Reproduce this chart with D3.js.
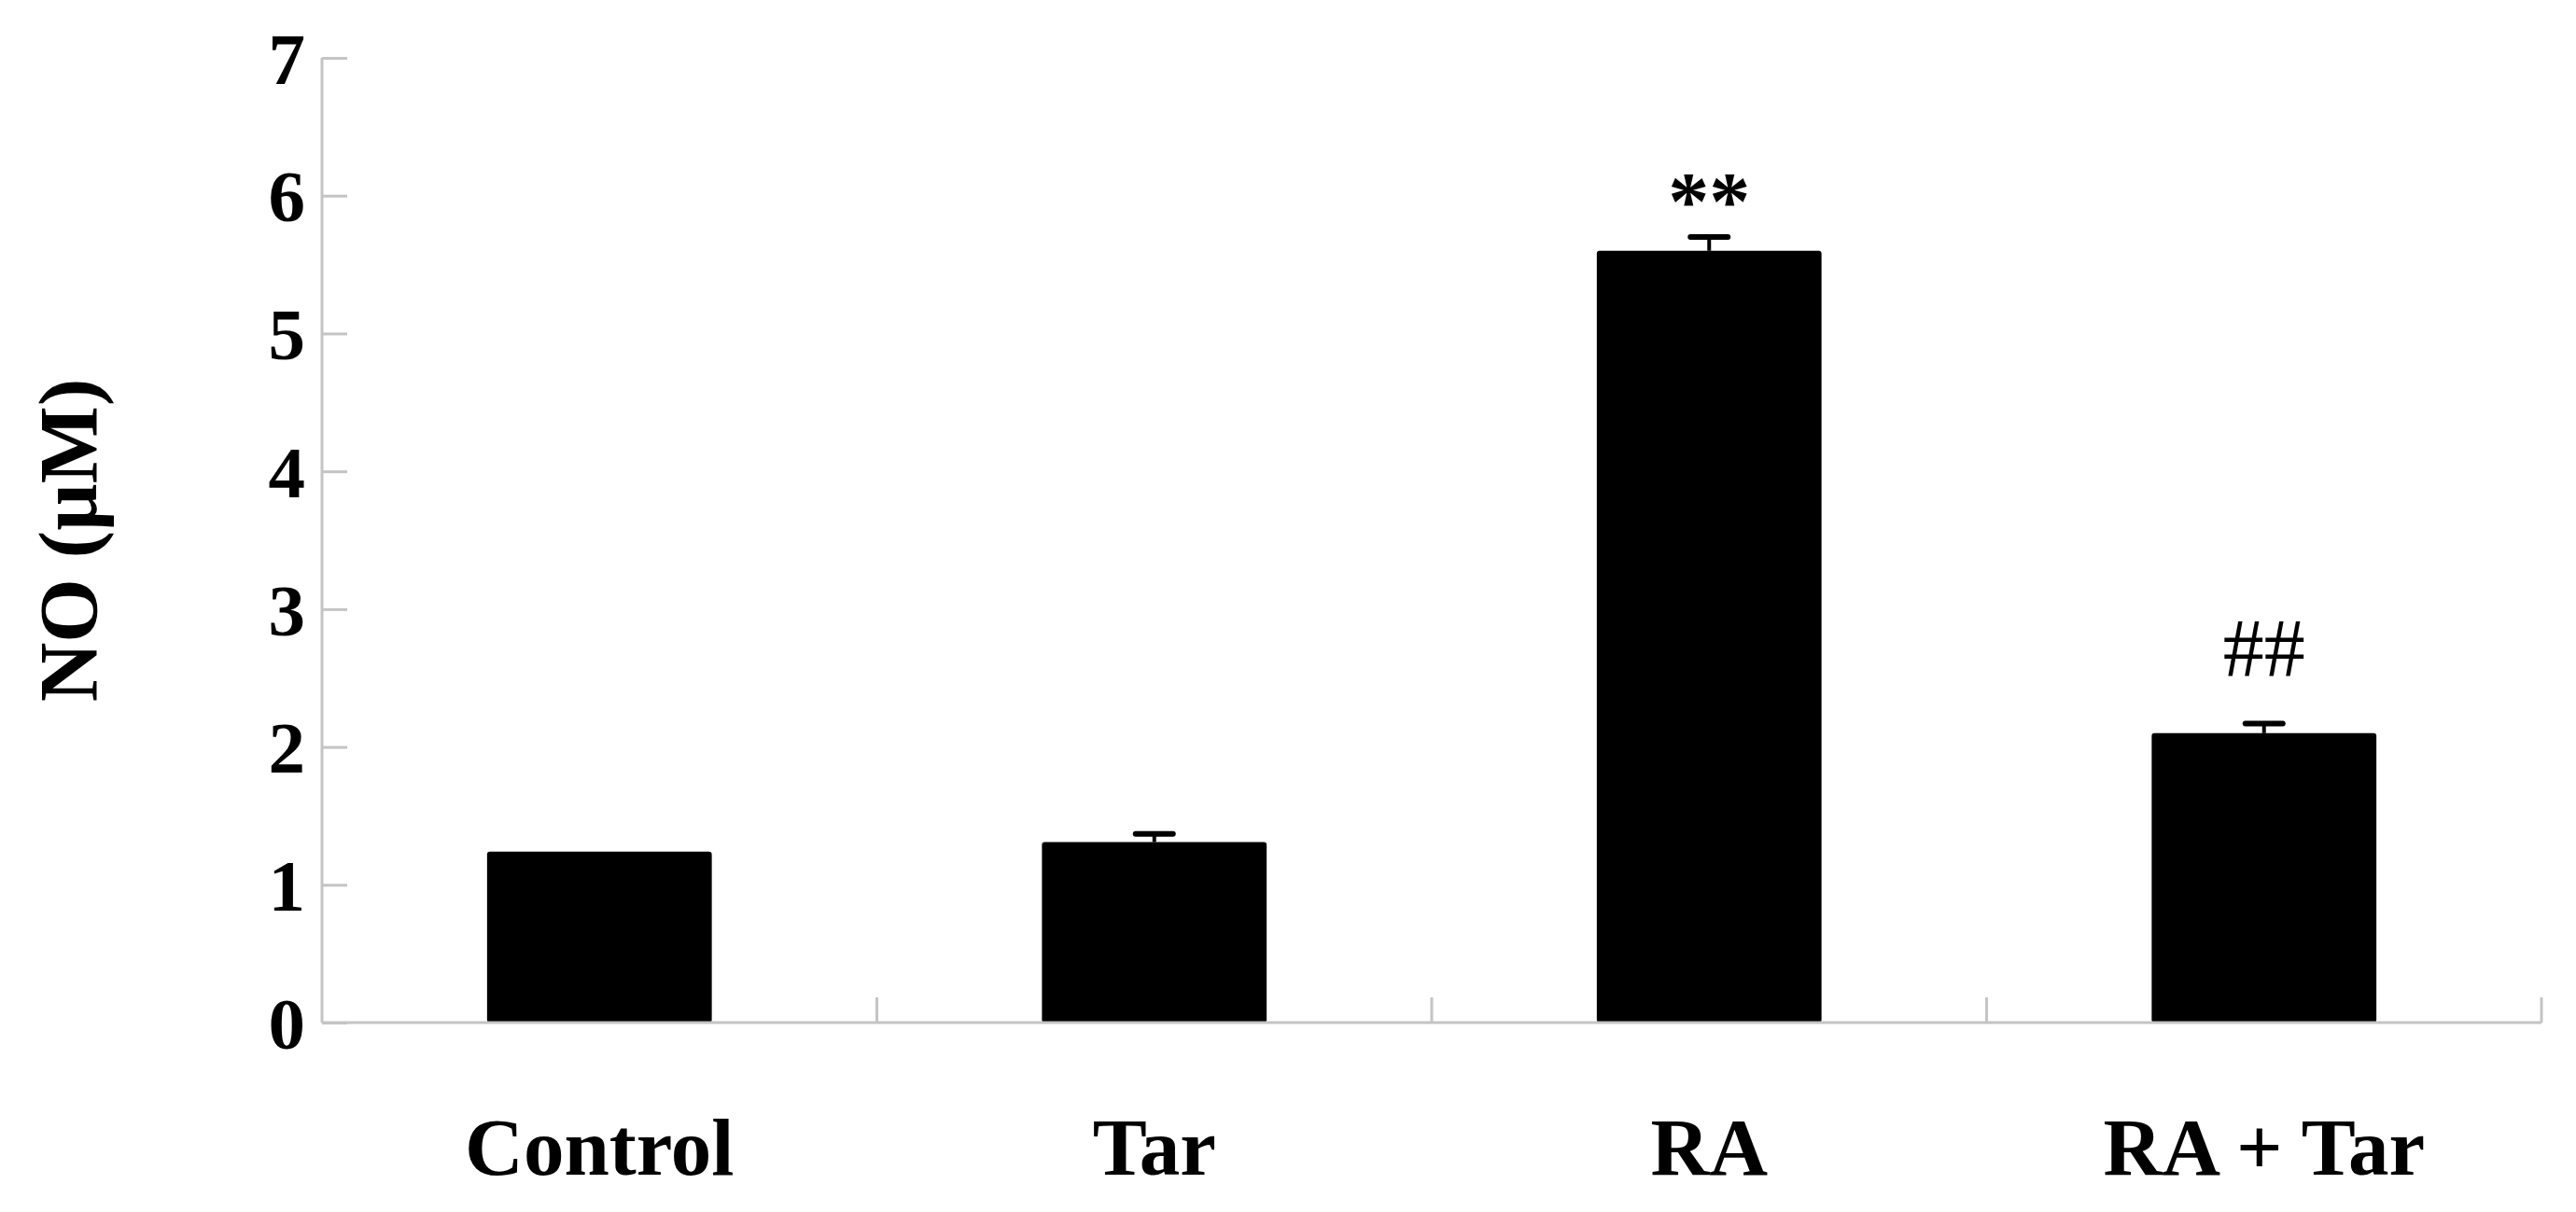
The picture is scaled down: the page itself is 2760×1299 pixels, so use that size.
<!DOCTYPE html>
<html>
<head>
<meta charset="utf-8">
<script src="https://cdn.jsdelivr.net/npm/d3@7"></script>
<style>
  body { margin: 0; background: #fff; }
  text { font-family: "Liberation Serif", "Times New Roman", serif; font-weight: bold; fill: #000; }
</style>
</head>
<body>
<svg width="2760" height="1299"></svg>
<script>
// values
var groups = ["Control", "Tar", "RA", "RA + Tar"];
var means = [1.24, 1.31, 5.60, 2.10];
var errors = [0, 0.06, 0.10, 0.07];
var marks = ["", "", "**", "##"];
var yTicks = [0, 1, 2, 3, 4, 5, 6, 7];

var svg = d3.select("svg");
var plotLeft = 345, plotRight = 2723, plotTop = 62, plotBottom = 1096;

var x = d3.scaleBand().domain(groups).range([plotLeft, plotRight]).padding(0);
var y = d3.scaleLinear().domain([0, 7]).range([plotBottom, plotTop]);
var barW = x.bandwidth() * 0.405;
var axisColor = "#c4c4c4";

// y axis, ticks inside pointing right
var yAxis = svg.append("g").attr("transform", "translate(" + plotLeft + ",0)")
    .call(d3.axisRight(y).tickValues(yTicks).tickSize(27).tickFormat(""));
yAxis.select(".domain").remove();
yAxis.selectAll("line").attr("stroke", axisColor).attr("stroke-width", 3);
svg.append("line").attr("x1", plotLeft).attr("x2", plotLeft).attr("y1", plotTop).attr("y2", plotBottom)
    .attr("stroke", axisColor).attr("stroke-width", 3);

svg.selectAll(".ylab").data(yTicks).enter().append("text")
    .attr("class", "ylab")
    .attr("x", 327)
    .attr("y", function (d) { return y(d); })
    .attr("dy", "0.35em")
    .attr("text-anchor", "end")
    .style("font-size", "79px")
    .text(function (d) { return d; });

// bars
svg.selectAll(".bar").data(groups).enter().append("rect")
    .attr("class", "bar")
    .attr("x", function (d) { return x(d) + (x.bandwidth() - barW) / 2; })
    .attr("width", barW)
    .attr("y", function (d, i) { return y(means[i]); })
    .attr("height", function (d, i) { return y(0) - y(means[i]); })
    .attr("rx", 3)
    .attr("fill", "#000");

// error bars (upper only)
var eb = svg.selectAll(".err").data(groups.filter(function (d, i) { return errors[i] > 0; }))
    .enter().append("g").attr("class", "err");
eb.append("line")
    .attr("x1", function (d) { return x(d) + x.bandwidth() / 2; })
    .attr("x2", function (d) { return x(d) + x.bandwidth() / 2; })
    .attr("y1", function (d) { var i = groups.indexOf(d); return y(means[i]); })
    .attr("y2", function (d) { var i = groups.indexOf(d); return y(means[i] + errors[i]); })
    .attr("stroke", "#000").attr("stroke-width", 4);
eb.append("line")
    .attr("x1", function (d) { return x(d) + x.bandwidth() / 2 - 20; })
    .attr("x2", function (d) { return x(d) + x.bandwidth() / 2 + 20; })
    .attr("y1", function (d) { var i = groups.indexOf(d); return y(means[i] + errors[i]); })
    .attr("y2", function (d) { var i = groups.indexOf(d); return y(means[i] + errors[i]); })
    .attr("stroke", "#000").attr("stroke-width", 6).attr("stroke-linecap", "round");

// significance marks
svg.selectAll(".mark").data(groups).enter().append("text")
    .attr("class", "mark")
    .attr("x", function (d) { return x(d) + x.bandwidth() / 2; })
    .attr("y", function (d, i) {
        var t = y(means[i] + errors[i]);
        return marks[i] === "**" ? t - 9 : t - 51;
    })
    .attr("text-anchor", "middle")
    .style("font-size", "88px")
    .style("font-weight", function (d, i) { return marks[i] === "##" ? "normal" : "bold"; })
    .text(function (d, i) { return marks[i]; });

// x axis with ticks pointing up at the band edges
var xEdges = groups.map(function (d) { return x(d); }).concat([plotRight]);
svg.append("line").attr("x1", plotLeft).attr("x2", plotRight).attr("y1", plotBottom).attr("y2", plotBottom)
    .attr("stroke", axisColor).attr("stroke-width", 3);
svg.selectAll(".xtick").data(xEdges.slice(1)).enter().append("line")
    .attr("class", "xtick")
    .attr("x1", function (d) { return d; }).attr("x2", function (d) { return d; })
    .attr("y1", plotBottom).attr("y2", plotBottom - 27)
    .attr("stroke", axisColor).attr("stroke-width", 3);

svg.selectAll(".xlab").data(groups).enter().append("text")
    .attr("class", "xlab")
    .attr("x", function (d) { return x(d) + x.bandwidth() / 2; })
    .attr("y", 1259)
    .attr("text-anchor", "middle")
    .style("font-size", "87px")
    .text(function (d) { return d; });

// y axis title
svg.append("text")
    .attr("transform", "translate(103," + (plotBottom + plotTop) / 2 + ") rotate(-90)")
    .attr("text-anchor", "middle")
    .style("font-size", "88px")
    .text("NO (\u00b5M)");
</script>
</body>
</html>
